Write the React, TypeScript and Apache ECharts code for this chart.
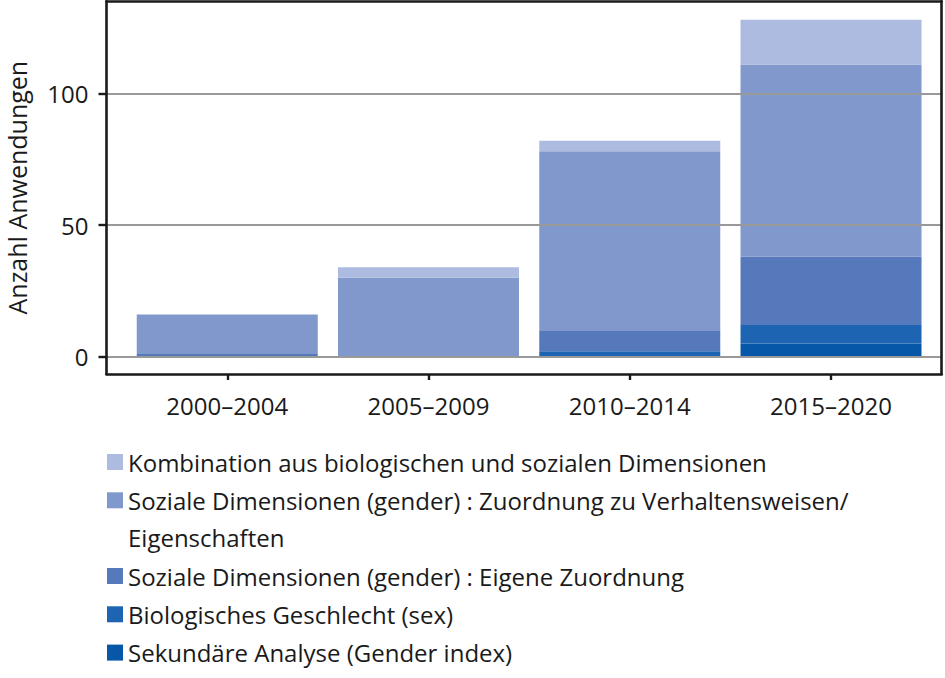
import React, { useEffect, useRef } from "react";
import * as echarts from "echarts";

const categories = ["2000–2004", "2005–2009", "2010–2014", "2015–2020"];
const sekundaer = [0, 0, 0, 5];
const biologisch = [0, 0, 2, 7];
const eigene = [1, 0, 8, 26];
const zuordnung = [15, 30, 68, 73];
const kombination = [0, 4, 4, 17];
const yTicks = [0, 50, 100];
const xPositions = categories.map((_, i) => i + 1);

const NAME_KOMB = "Kombination aus biologischen und sozialen Dimensionen";
const NAME_ZUORD_1 = "Soziale Dimensionen (gender) : Zuordnung zu Verhaltensweisen/";
const NAME_ZUORD_2 = "Eigenschaften";
const NAME_ZUORD = NAME_ZUORD_1 + NAME_ZUORD_2;
const NAME_EIGENE = "Soziale Dimensionen (gender) : Eigene Zuordnung";
const NAME_BIO = "Biologisches Geschlecht (sex)";
const NAME_SEK = "Sekundäre Analyse (Gender index)";

const FONT = "Open Sans";
const TEXT = "#1a1a1a";
const FS = 24;

export default function App() {
  const ref = useRef<HTMLDivElement>(null);
  useEffect(() => {
    if (!ref.current) return;
    const chart = echarts.init(ref.current, null, { renderer: "svg" });
    // value first, x position second, so that the stack runs on the value dimension
    const toData = (arr: number[]) => arr.map((v, i) => [v, xPositions[i]]);
    const mk = (name: string, arr: number[], color: string) => ({
      name,
      type: "bar",
      stack: "total",
      data: toData(arr),
      encode: { x: 1, y: 0 },
      barWidth: 181,
      itemStyle: { color },
      emphasis: { disabled: true },
    });
    const xMin = 0.4;
    const xMax = 4.55;
    const yMin = -6.6;
    const yMax = 135;
    const axisColor = "#1a1a1a";
    chart.setOption({
      animation: false,
      textStyle: { fontFamily: FONT },
      grid: {
        left: 106.5,
        right: 3.3,
        top: 1.3,
        bottom: 304,
        containLabel: false,
        outerBoundsMode: "none",
      },
      xAxis: [
        {
          type: "value",
          min: xMin,
          max: xMax,
          position: "bottom",
          z: 5,
          axisLine: { show: true, onZero: false, lineStyle: { color: axisColor, width: 2.6 } },
          axisTick: {
            show: true,
            customValues: xPositions,
            length: 6,
            lineStyle: { color: axisColor, width: 2.4 },
          },
          axisLabel: {
            customValues: xPositions,
            formatter: (v: number) => categories[Math.round(v) - 1] ?? "",
            fontSize: FS,
            fontFamily: FONT,
            color: TEXT,
            margin: 19,
          },
          splitLine: { show: false },
        },
        {
          type: "value",
          min: xMin,
          max: xMax,
          position: "top",
          z: 5,
          axisLine: { show: true, onZero: false, lineStyle: { color: axisColor, width: 2.6 } },
          axisTick: { show: false },
          axisLabel: { show: false },
          splitLine: { show: false },
        },
      ],
      yAxis: [
        {
          type: "value",
          min: yMin,
          max: yMax,
          splitNumber: 3,
          position: "left",
          z: 4,
          name: "Anzahl Anwendungen",
          nameLocation: "middle",
          nameGap: 77,
          nameTextStyle: { fontSize: 25, fontFamily: FONT, color: TEXT },
          axisLine: { show: true, onZero: false, lineStyle: { color: axisColor, width: 2.6 } },
          axisTick: {
            show: true,
            customValues: yTicks,
            length: 8,
            lineStyle: { color: axisColor, width: 2.4 },
          },
          axisLabel: {
            customValues: yTicks,
            fontSize: FS,
            fontFamily: FONT,
            color: TEXT,
            margin: 18,
          },
          splitLine: { show: true, lineStyle: { color: "#999999", width: 2 } },
        },
        {
          type: "value",
          min: yMin,
          max: yMax,
          position: "right",
          z: 5,
          axisLine: { show: true, onZero: false, lineStyle: { color: axisColor, width: 2.6 } },
          axisTick: { show: false },
          axisLabel: { show: false },
          splitLine: { show: false },
        },
      ],
      legend: [
        {
          orient: "vertical",
          left: 107,
          top: 450,
          padding: 0,
          itemWidth: 16,
          itemHeight: 16,
          itemGap: 14.3,
          icon: "rect",
          selectedMode: false,
          data: [NAME_KOMB, NAME_ZUORD],
          formatter: (n: string) => (n === NAME_ZUORD ? NAME_ZUORD_1 : n),
          textStyle: { fontSize: FS, lineHeight: 24, fontFamily: FONT, color: TEXT },
        },
        {
          orient: "vertical",
          left: 107,
          top: 564,
          padding: 0,
          itemWidth: 16,
          itemHeight: 16,
          itemGap: 14.3,
          icon: "rect",
          selectedMode: false,
          data: [NAME_EIGENE, NAME_BIO, NAME_SEK],
          textStyle: { fontSize: FS, lineHeight: 24, fontFamily: FONT, color: TEXT },
        },
      ],
      graphic: [
        {
          type: "text",
          left: 128,
          top: 525,
          style: { text: NAME_ZUORD_2, fontSize: FS, fontFamily: FONT, fill: TEXT },
        },
      ],
      series: [
        mk(NAME_SEK, sekundaer, "#0757a8"),
        mk(NAME_BIO, biologisch, "#1d64b3"),
        mk(NAME_EIGENE, eigene, "#5679bc"),
        mk(NAME_ZUORD, zuordnung, "#8198cc"),
        mk(NAME_KOMB, kombination, "#aebbe0"),
      ],
    });
    return () => chart.dispose();
  }, []);
  return (
    <div
      ref={ref}
      style={{ position: "fixed", left: 0, top: 0, width: 945, height: 678, background: "#fff" }}
    />
  );
}
